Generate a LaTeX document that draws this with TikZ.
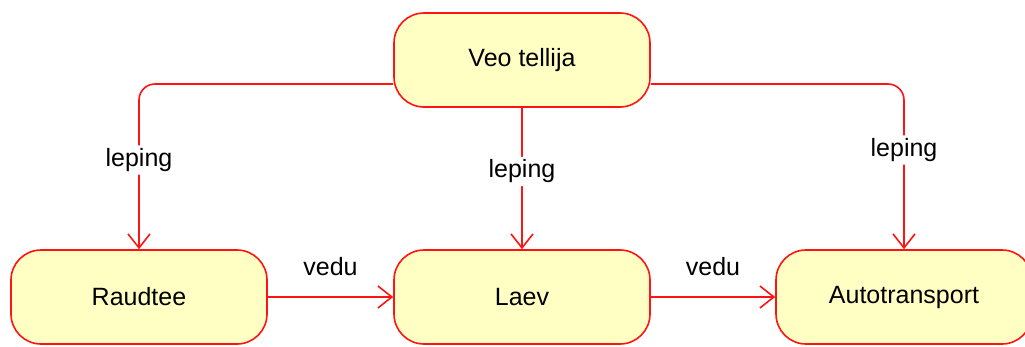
\documentclass[tikz,border=0pt]{standalone}
\usepackage{fontspec}
\setmainfont{Liberation Sans}
\usetikzlibrary{arrows.meta}
\definecolor{boxfill}{RGB}{255,255,196}
\definecolor{linered}{RGB}{255,20,20}
\begin{document}
\begin{tikzpicture}[x=1pt,y=-1pt,
  state/.style={draw=linered, fill=boxfill, line width=1.6pt, rounded corners=30pt,
    minimum width=256pt, minimum height=94pt, inner sep=0pt,
    font=\fontsize{25}{30}\selectfont},
  conn/.style={draw=linered, line width=1.6pt, rounded corners=16pt,
    -{Straight Barb[length=14pt,width=22pt,line width=1.6pt]}},
  lbl/.style={fill=white, inner sep=3pt, font=\fontsize{25}{30}\selectfont, text=black}]
\useasboundingbox (0,0) rectangle (1025,346);
\node[state] (top) at (522,60) {Veo tellija};
\node[state] (rail) at (139,297) {Raudtee};
\node[state] (ship) at (522,297) {Laev};
\node[state] (auto) at (904,297) {Autotransport};
\draw[conn] ([yshift=-24pt]top.west) -| (rail.north) node[lbl, pos=0.73] {leping};
\draw[conn] (top.south) -- (ship.north) node[lbl, pos=0.45] {leping};
\draw[conn] ([yshift=-24pt]top.east) -| (auto.north) node[lbl, pos=0.70] {leping};
\draw[conn] (rail.east) -- (ship.west) node[midway, yshift=30pt, font=\fontsize{25}{30}\selectfont] (v1) {vedu};
\draw[conn] (ship.east) -- (auto.west) node[midway, yshift=30pt, font=\fontsize{25}{30}\selectfont] (v2) {vedu};
\end{tikzpicture}
\end{document}
